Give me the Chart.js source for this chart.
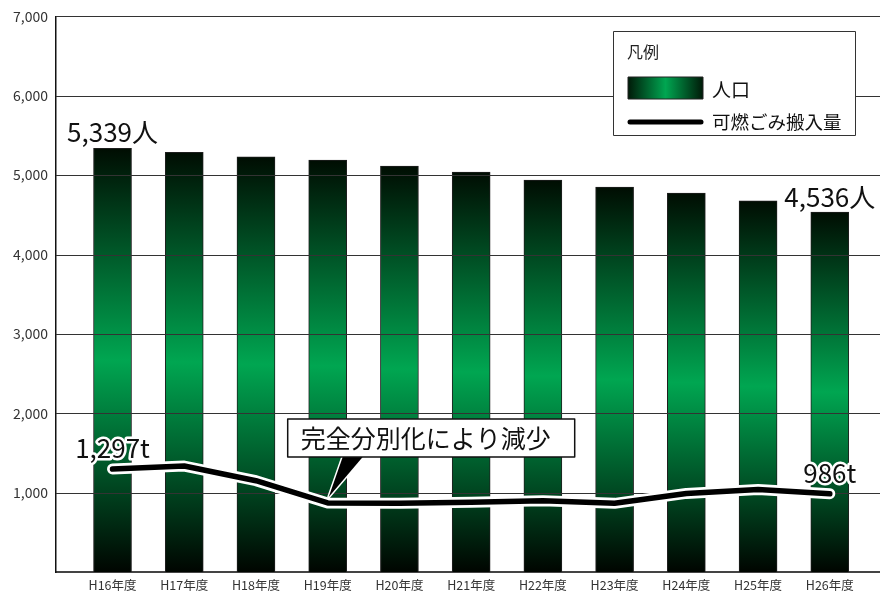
<!DOCTYPE html>
<html><head><meta charset="utf-8">
<script src="https://cdn.jsdelivr.net/npm/chart.js@4.4.1/dist/chart.umd.min.js"></script>
<style>html,body{margin:0;padding:0;background:#fff;}canvas{display:block;}</style>
</head><body>
<canvas id="c" width="880" height="593"></canvas>
<script>
const categories = ['H16年度','H17年度','H18年度','H19年度','H20年度','H21年度','H22年度','H23年度','H24年度','H25年度','H26年度'];
const population = [5339, 5288, 5232, 5190, 5115, 5039, 4938, 4850, 4774, 4677, 4536];
const waste = [1297, 1335, 1150, 870, 865, 880, 899, 865, 990, 1038, 986];
const yTicks = [0, 1000, 2000, 3000, 4000, 5000, 6000, 7000];
const legendTitle = '凡例';
const seriesNames = ['人口', '可燃ごみ搬入量'];
const popLabels = ['5,339人', '4,536人'];
const wasteLabels = ['1,297t', '986t'];
const noteText = '完全分別化により減少';

const FONT = '"Noto Sans CJK JP", "Noto Sans", sans-serif';
const GREEN = '#00a651';

function barGradient(ctx) {
  const chart = ctx.chart;
  if (!chart.chartArea || !ctx.parsed) return GREEN;
  const y = chart.scales.y;
  const top = y.getPixelForValue(ctx.parsed.y);
  const bot = y.getPixelForValue(0);
  const g = chart.ctx.createLinearGradient(0, top, 0, bot);
  g.addColorStop(0, '#000d02');
  g.addColorStop(0.5, GREEN);
  g.addColorStop(1, '#000500');
  return g;
}

const gridPlugin = {
  id: 'gridOver',
  afterDatasetDraw(chart, args) {
    if (args.index !== 0) return;
    const {ctx, chartArea, scales} = chart;
    ctx.save();
    ctx.strokeStyle = '#333';
    ctx.lineWidth = 1;
    yTicks.forEach(v => {
      if (v === 0) return;
      const py = Math.round(scales.y.getPixelForValue(v)) + 0.5;
      ctx.beginPath();
      ctx.moveTo(chartArea.left, py);
      ctx.lineTo(chartArea.right, py);
      ctx.stroke();
    });
    ctx.restore();
  }
};

function outlinedText(ctx, text, x, y, stroke) {
  if (stroke) {
    ctx.lineWidth = 5;
    ctx.strokeStyle = '#fff';
    ctx.lineJoin = 'round';
    ctx.strokeText(text, x, y);
  }
  ctx.fillStyle = '#111';
  ctx.fillText(text, x, y);
}

const decoPlugin = {
  id: 'deco',
  afterDraw(chart) {
    const {ctx, scales} = chart;
    const xs = scales.x, ys = scales.y;
    const last = categories.length - 1;
    ctx.save();
    ctx.font = '26px ' + FONT;
    ctx.textAlign = 'center';
    ctx.textBaseline = 'middle';
    outlinedText(ctx, popLabels[0], xs.getPixelForValue(0), ys.getPixelForValue(population[0]) - 16, false);
    outlinedText(ctx, popLabels[1], xs.getPixelForValue(last), ys.getPixelForValue(population[last]) - 15, false);
    outlinedText(ctx, wasteLabels[0], xs.getPixelForValue(0), ys.getPixelForValue(waste[0]) - 21, true);
    outlinedText(ctx, wasteLabels[1], xs.getPixelForValue(last), ys.getPixelForValue(waste[last]) - 21, true);

    // callout
    const tipX = xs.getPixelForValue(3) + 1;
    const tipY = ys.getPixelForValue(waste[3]) - 6;
    const bx = tipX - 41, by = tipY - 78, bw = 287, bh = 38;
    ctx.beginPath();
    ctx.moveTo(tipX, tipY);
    ctx.lineTo(tipX + 14, by + bh);
    ctx.lineTo(tipX + 34, by + bh);
    ctx.closePath();
    ctx.lineWidth = 3;
    ctx.strokeStyle = '#fff';
    ctx.stroke();
    ctx.fillStyle = '#000';
    ctx.fill();
    ctx.fillStyle = '#fff';
    ctx.fillRect(bx, by, bw, bh);
    ctx.lineWidth = 1.5;
    ctx.strokeStyle = '#111';
    ctx.strokeRect(bx, by, bw, bh);
    ctx.textAlign = 'left';
    ctx.fillStyle = '#111';
    ctx.font = '25px ' + FONT;
    ctx.fillText(noteText, bx + 13, by + bh / 2 + 1);

    // legend
    const lx = 613.5, ly = 31.5, lw = 242, lh = 104;
    ctx.fillStyle = '#fff';
    ctx.fillRect(lx, ly, lw, lh);
    ctx.lineWidth = 1;
    ctx.strokeStyle = '#333';
    ctx.strokeRect(lx, ly, lw, lh);
    ctx.fillStyle = '#222';
    ctx.font = '16px ' + FONT;
    ctx.fillText(legendTitle, 627, 52);
    const sg = ctx.createLinearGradient(628, 0, 703, 0);
    sg.addColorStop(0, '#001a08');
    sg.addColorStop(0.5, GREEN);
    sg.addColorStop(1, '#001a08');
    ctx.fillStyle = sg;
    ctx.fillRect(628, 77, 75, 22);
    ctx.strokeStyle = '#222';
    ctx.strokeRect(628, 77, 75, 22);
    ctx.fillStyle = '#111';
    ctx.font = '19px ' + FONT;
    ctx.fillText(seriesNames[0], 712, 90);
    ctx.beginPath();
    ctx.moveTo(630, 122);
    ctx.lineTo(701, 122);
    ctx.lineWidth = 5;
    ctx.lineCap = 'round';
    ctx.strokeStyle = '#000';
    ctx.stroke();
    ctx.font = '18.5px ' + FONT;
    ctx.fillText(seriesNames[1], 712, 122);
    ctx.restore();
  }
};

const barData = population.map((v, i) => ({x: i, y: v}));
const lineData = waste.map((v, i) => ({x: i, y: v}));

new Chart(document.getElementById('c'), {
  type: 'bar',
  data: {
    datasets: [
      {
        label: seriesNames[0],
        data: barData,
        backgroundColor: barGradient,
        borderColor: '#1e1e1e',
        borderWidth: 1,
        barThickness: 38,
        order: 3
      },
      {
        type: 'line',
        label: seriesNames[1] + '_outline',
        data: lineData,
        borderColor: '#fff',
        borderWidth: 11,
        borderCapStyle: 'round',
        borderJoinStyle: 'round',
        pointRadius: 0,
        tension: 0,
        order: 2
      },
      {
        type: 'line',
        label: seriesNames[1],
        data: lineData,
        borderColor: '#000',
        borderWidth: 5.5,
        borderCapStyle: 'round',
        borderJoinStyle: 'round',
        pointRadius: 0,
        tension: 0,
        order: 1
      }
    ]
  },
  options: {
    responsive: false,
    animation: false,
    devicePixelRatio: 1,
    layout: {padding: {top: 16, left: 0, right: 0, bottom: 0}},
    plugins: {legend: {display: false}, tooltip: {enabled: false}},
    scales: {
      x: {
        type: 'linear',
        offset: false,
        min: -0.788,
        max: 10.70,
        grid: {display: false, drawTicks: false, offset: false},
        border: {display: true, color: '#444', width: 2},
        afterBuildTicks(scale) { scale.ticks = categories.map((_, i) => ({value: i})); },
        afterFit(scale) { scale.height = 21; },
        ticks: {
          autoSkip: false,
          maxRotation: 0,
          padding: 6,
          color: '#333',
          font: {family: FONT, size: 12.5},
          callback: (v) => categories[v] ?? ''
        }
      },
      y: {
        min: 0,
        max: 7000,
        grid: {display: false, drawTicks: false},
        border: {display: true, color: '#111', width: 1.5},
        afterBuildTicks(scale) { scale.ticks = yTicks.map(v => ({value: v})); },
        afterFit(scale) { scale.width = 56; },
        ticks: {
          padding: 8,
          color: '#333',
          font: {family: FONT, size: 14},
          callback: (v) => v === 0 ? '' : v.toLocaleString('en-US')
        }
      }
    }
  },
  plugins: [gridPlugin, decoPlugin]
});
</script>
</body></html>
